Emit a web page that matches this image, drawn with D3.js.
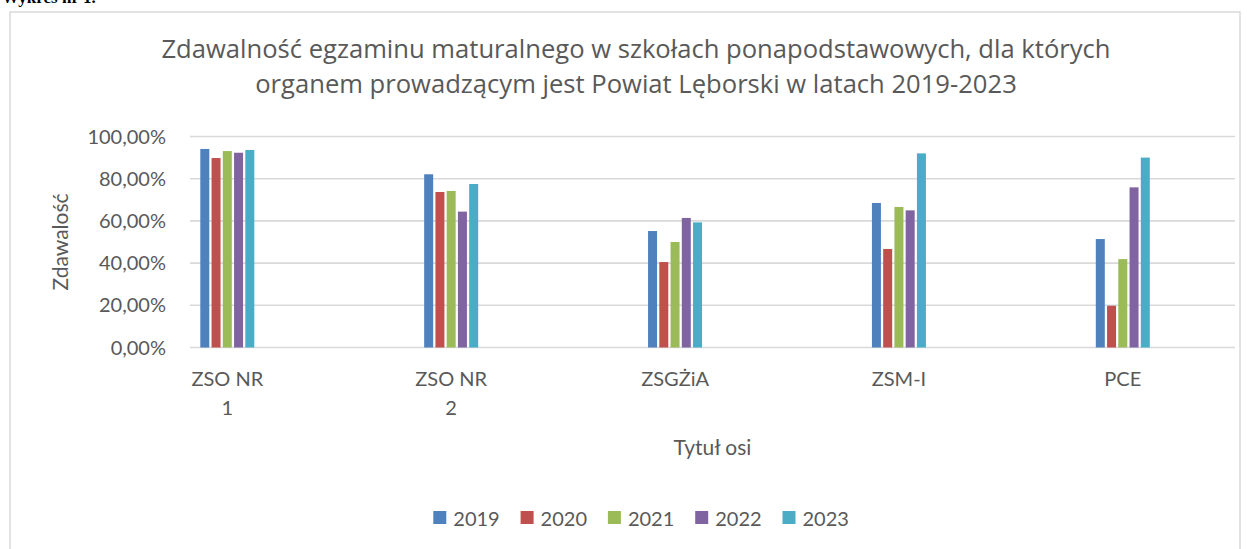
<!DOCTYPE html>
<html>
  <head>
    <meta charset="utf-8">
    <title>Zdawalność egzaminu maturalnego</title>
    <script src="https://cdn.jsdelivr.net/npm/d3@7/dist/d3.min.js"></script>
    <style>
      body { margin: 0; background: #fff; }
      text { font-family: Lato, "Open Sans", sans-serif; fill: #595959; }
    </style>
  </head>
  <body>
    <svg width="1251" height="549"></svg>
    <script>

      // data (percent)
      const schools = ["ZSO NR 1", "ZSO NR 2", "ZSGŻiA", "ZSM-I", "PCE"];
      const years = ["2019", "2020", "2021", "2022", "2023"];
      const v2019 = [94.1, 82.1, 55.2, 68.5, 51.4];
      const v2020 = [89.8, 73.7, 40.5, 46.7, 19.8];
      const v2021 = [93.1, 74.2, 50.0, 66.6, 41.9];
      const v2022 = [92.3, 64.4, 61.4, 65.0, 75.9];
      const v2023 = [93.6, 77.5, 59.3, 92.0, 90.0];
      const yTicks = [0, 20, 40, 60, 80, 100];
      const colors = ["#4f81bd", "#c0504d", "#9bbb59", "#8064a2", "#4bacc6"];

      const series = [v2019, v2020, v2021, v2022, v2023];

      const svg = d3.select("svg");

      const plot = { left: 190, right: 1235, top: 136.5, bottom: 347.5 };

      // page caption, mostly cut off at the top
      svg.append("text")
          .attr("x", 2)
          .attr("y", 3)
          .style("font-family", "'Liberation Serif', serif")
          .style("font-weight", "bold")
          .style("font-size", "17px")
          .style("fill", "#000")
          .text("Wykres nr 1.");

      // chart frame
      svg.append("rect")
          .attr("x", 10)
          .attr("y", 12)
          .attr("width", 1230)
          .attr("height", 560)
          .attr("fill", "none")
          .attr("stroke", "#d9d9d9")
          .attr("stroke-width", 1.5);

      const y = d3.scaleLinear()
          .domain([0, 100])
          .range([plot.bottom, plot.top]);

      const x0 = d3.scalePoint()
          .domain(schools)
          .range([227.3, 1122.8]);

      const x1 = d3.scaleBand()
          .domain(years)
          .range([-27, 27])
          .paddingInner(0.2);

      // gridlines
      svg.append("g")
          .selectAll("line")
          .data(yTicks)
          .join("line")
            .attr("x1", plot.left)
            .attr("x2", plot.right)
            .attr("y1", d => y(d))
            .attr("y2", d => y(d))
            .attr("stroke", "#d9d9d9")
            .attr("stroke-width", 1.6);

      // y tick labels
      svg.append("g")
          .selectAll("text")
          .data(yTicks)
          .join("text")
            .attr("x", 166)
            .attr("y", d => y(d))
            .attr("dy", "0.35em")
            .attr("text-anchor", "end")
            .style("font-size", "20px")
            .text(d => d3.format(".2f")(d).replace(".", ",") + "%");

      // bars
      const groups = svg.append("g")
          .selectAll("g")
          .data(schools)
          .join("g")
            .attr("transform", d => `translate(${x0(d)},0)`);

      groups.selectAll("rect")
          .data((d, i) => years.map((yr, j) => ({ year: yr, value: series[j][i], color: colors[j] })))
          .join("rect")
            .attr("x", d => x1(d.year))
            .attr("width", x1.bandwidth())
            .attr("y", d => y(d.value))
            .attr("height", d => y(0) - y(d.value))
            .attr("fill", d => d.color);

      // x category labels (wrapped like the original)
      const wrap = name => name.startsWith("ZSO NR") ? ["ZSO NR", name.slice(7)] : [name];
      const xl = svg.append("g")
          .selectAll("text")
          .data(schools)
          .join("text")
            .attr("x", d => x0(d))
            .attr("y", 386)
            .attr("text-anchor", "middle")
            .style("font-size", "20px");
      xl.selectAll("tspan")
          .data(d => wrap(d))
          .join("tspan")
            .attr("x", function() { return d3.select(this.parentNode).attr("x"); })
            .attr("dy", (d, i) => i === 0 ? 0 : 29)
            .text(d => d);

      // axis titles
      svg.append("text")
          .attr("x", (plot.left + plot.right) / 2)
          .attr("y", 455)
          .attr("text-anchor", "middle")
          .style("font-size", "21px")
          .text("Tytuł osi");

      svg.append("text")
          .attr("transform", `translate(68,${(plot.top + plot.bottom) / 2}) rotate(-90)`)
          .attr("text-anchor", "middle")
          .style("font-size", "21px")
          .text("Zdawalość");

      // title
      const title = svg.append("text")
          .attr("x", 636)
          .attr("text-anchor", "middle")
          .style("font-family", "'Open Sans', sans-serif")
          .style("font-size", "25.6px");
      title.append("tspan").attr("x", 636).attr("y", 58)
          .text("Zdawalność egzaminu maturalnego w szkołach ponapodstawowych, dla których");
      title.append("tspan").attr("x", 636).attr("y", 93)
          .text("organem prowadzącym jest Powiat Lęborski w latach 2019-2023");

      // legend
      const legend = svg.append("g")
          .selectAll("g")
          .data(years)
          .join("g")
            .attr("transform", (d, i) => `translate(${433.3 + i * 87.3},511)`);
      legend.append("rect")
          .attr("width", 13)
          .attr("height", 13)
          .attr("fill", (d, i) => colors[i]);
      legend.append("text")
          .attr("x", 20)
          .attr("y", 15)
          .style("font-size", "20px")
          .text(d => d);

    </script>
  </body>
</html>
